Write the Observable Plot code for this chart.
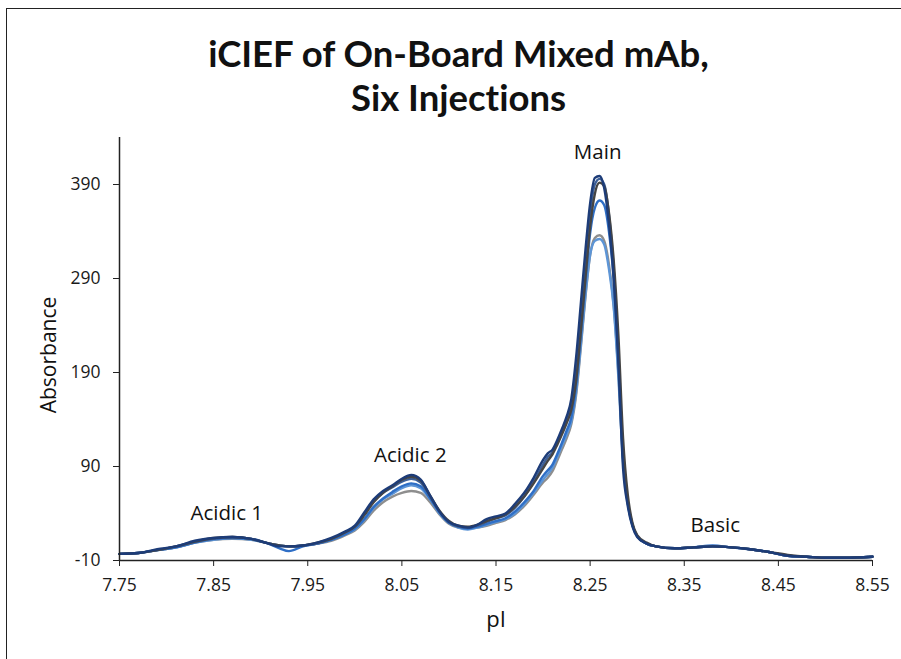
<!DOCTYPE html>
<html>
<head>
<meta charset="utf-8">
<script src="https://cdn.jsdelivr.net/npm/d3@7"></script>
<script src="https://cdn.jsdelivr.net/npm/@observablehq/plot@0.6"></script>
<style>
  html, body { margin: 0; padding: 0; background: #fff; }
  #wrap { position: relative; width: 901px; height: 659px; overflow: hidden; font-family: "Open Sans", sans-serif; }
  #frame { position: absolute; left: 6px; top: 8px; width: 1200px; height: 1200px; border-left: 1.5px solid #222; border-top: 1.5px solid #222; pointer-events: none; }
  #title { position: relative; height: 120px; box-sizing: border-box; padding-top: 31px; padding-left: 16px; text-align: center; font-family: Lato, "Open Sans", sans-serif; font-weight: 700; font-size: 36.5px; color: #111; font-variant-ligatures: none; font-feature-settings: "liga" 0, "clig" 0; }
  #title div { height: 44px; line-height: 44px; white-space: nowrap; }
  #chart svg { display: block; }
</style>
</head>
<body>
<div id="wrap">
  <div id="frame"></div>
  <div id="title"><div>iCIEF of On-Board Mixed mAb,</div><div>Six Injections</div></div>
  <div id="chart"></div>
</div>
<script>
// pI grid (shared by all six injections)
const pI = [7.75, 7.77, 7.79, 7.81, 7.83, 7.85, 7.87, 7.89,
  7.905, 7.92, 7.93, 7.945, 7.96, 7.975, 7.99,
  8.00, 8.01, 8.02, 8.03, 8.04, 8.05, 8.06, 8.07, 8.08, 8.09, 8.10, 8.11, 8.12, 8.13, 8.14, 8.15, 8.16, 8.17, 8.18, 8.19, 8.20,
  8.205, 8.21, 8.215, 8.22, 8.225, 8.23, 8.235, 8.24, 8.245, 8.25, 8.255, 8.26, 8.265, 8.27, 8.275, 8.28, 8.285, 8.29, 8.295, 8.30,
  8.31, 8.32, 8.34, 8.36, 8.38, 8.40, 8.42, 8.44, 8.46, 8.48, 8.50, 8.52, 8.55];

const inj5 = [-3,-2,1,4,9,12,13,12, 9,6,5,6,8,11,17,
  22,31,43,52,58,62,64,62,52,39,29,25,24,25,27,30,33,39,48,60,73,
  78,85,96,108,120,135,165,215,270,315,333,336,330,305,262,190,98,52,28,16,
  8,5,3,4,5,4,2,-1,-5,-6,-7,-7,-6];
const inj6 = [-3,-2,1,4,9,12,14,12, 9,6,5,6,8,12,18,
  23,33,46,55,61,67,70,67,55,40,30,25,23,25,28,31,34,40,50,62,76,
  82,89,100,112,124,138,168,218,272,315,330,332,326,300,260,185,95,50,27,16,
  8,5,3,4,5,4,2,-1,-5,-6,-7,-7,-6];
const inj3 = [-3,-2,1,4,9,13,14,13, 9,3,0,5,8,12,18,
  24,34,47,56,63,69,72,69,56,41,30,26,24,26,29,32,35,42,52,64,80,
  86,92,103,115,128,142,175,228,285,338,365,373,368,340,290,205,100,52,28,16,
  8,5,3,4,6,4,2,-1,-5,-6,-7,-7,-6];
const inj4 = [-3,-2,1,5,10,13,15,13, 9,6,5,6,8,13,20,
  26,39,53,62,68,74,77,73,58,42,31,26,25,27,31,35,38,46,58,74,92,
  100,105,115,126,139,155,190,248,308,360,390,396,390,358,300,210,100,52,28,16,
  8,5,3,4,5,4,2,-1,-5,-6,-7,-7,-6];
const inj2 = [-3,-2,1,5,10,14,15,13, 9,6,5,6,9,13,20,
  26,38,52,62,69,76,79,75,59,43,32,27,26,28,32,35,39,47,58,72,88,
  96,103,113,124,136,150,180,232,290,345,380,392,388,360,310,230,120,60,30,17,
  9,5,3,4,5,4,2,-1,-4,-6,-7,-7,-6];
const inj1 = [-3,-2,2,5,11,14,15,13, 9,5,5,6,9,14,21,
  27,41,55,64,70,77,81,76,59,42,31,27,25,28,34,37,40,50,62,78,97,
  104,108,118,130,143,162,205,262,320,370,397,399,386,348,290,200,88,48,26,15,
  8,5,3,4,5,4,2,-1,-5,-6,-7,-7,-6];

const seriesNames = ["Inj 5", "Inj 6", "Inj 3", "Inj 4", "Inj 2", "Inj 1"];
const seriesValues = [inj5, inj6, inj3, inj4, inj2, inj1];
const seriesColors = ["#8e8e8e", "#5d95d6", "#2f6fc6", "#3c5f98", "#454545", "#1d3c78"];

const xTicks = [7.75, 7.85, 7.95, 8.05, 8.15, 8.25, 8.35, 8.45, 8.55];
const yTicks = [-10, 90, 190, 290, 390];

const peakLabels = ["Acidic 1", "Acidic 2", "Main", "Basic"];
const peakX = [7.864, 8.059, 8.258, 8.383];
const peakY = [40, 101.5, 424, 27];

const data = [];
seriesNames.forEach((name, i) => {
  seriesValues[i].forEach((v, j) => data.push({series: name, pI: pI[j], abs: v}));
});
const labels = peakLabels.map((t, i) => ({t, x: peakX[i], y: peakY[i]}));

const chart = Plot.plot({
  width: 901,
  height: 539,
  marginTop: 17,
  marginBottom: 99,
  marginLeft: 119,
  marginRight: 29,
  style: {fontFamily: "Open Sans, sans-serif", fontSize: "18px", color: "#1a1a1a", background: "#fff"},
  x: {domain: [7.75, 8.55], axis: null},
  y: {domain: [-10, 440], axis: null},
  color: {domain: seriesNames, range: seriesColors},
  marks: [
    Plot.line(data, {x: "pI", y: "abs", z: "series", stroke: "series", strokeWidth: 2.4, curve: "monotone-x"}),
    Plot.ruleY([-10], {stroke: "#222", strokeWidth: 1.5}),
    Plot.ruleX([7.75], {stroke: "#222", strokeWidth: 1.5}),
    Plot.axisX({ticks: xTicks, tickFormat: d => d.toFixed(2), tickSize: 6, tickPadding: 12, fontSize: 17.5, stroke: "#222", fill: "#1a1a1a", label: null}),
    Plot.axisY({ticks: yTicks, tickFormat: d => String(d), tickSize: 6, tickPadding: 13, fontSize: 17.5, stroke: "#222", fill: "#1a1a1a", label: null}),
    Plot.text(labels, {x: "x", y: "y", text: "t", fontSize: 20.5, fill: "#111"}),
    Plot.text(["pI"], {frameAnchor: "bottom", dy: 66, fontSize: 22, fill: "#111"}),
    Plot.text(["Absorbance"], {frameAnchor: "left", textAnchor: "middle", rotate: -90, dx: -70, dy: 6, fontSize: 21, fill: "#111"})
  ]
});
document.getElementById("chart").appendChild(chart);
</script>
</body>
</html>
